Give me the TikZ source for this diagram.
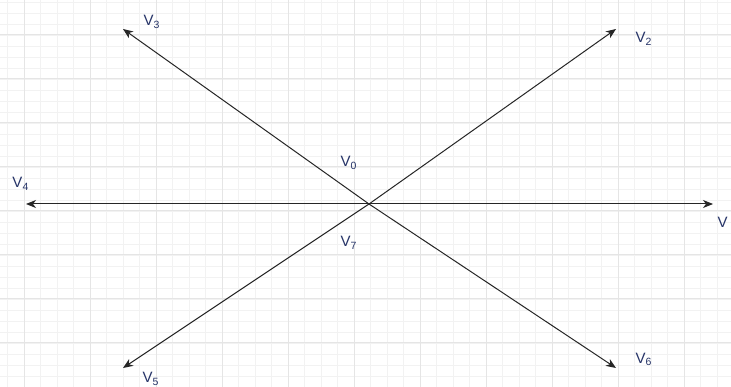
\documentclass[tikz,border=0pt]{standalone}
\usepackage{fontspec}
\setmainfont{Liberation Sans}
\usetikzlibrary{arrows.meta}
\definecolor{vtext}{RGB}{38,52,104}
\newcommand{\vlab}[1]{V{\fontsize{10.5}{12}\selectfont\raisebox{-2.5pt}{#1}}}

\begin{document}
\begin{tikzpicture}[x=1pt,y=-1pt,>={Stealth[length=10pt,width=8pt,inset=3pt]},line width=1pt]
  \tikzstyle{lbl}=[font=\fontsize{15}{17}\selectfont, text=vtext, inner sep=0pt, anchor=base west]
  \tikzstyle{vec}=[->, draw=black!85]
  \tikzstyle{minor}=[line width=0.8pt, draw=black!5]
  \tikzstyle{major}=[line width=1pt, draw=black!10]

  \useasboundingbox (0,0) rectangle (731,387);
  \fill[white] (0,0) rectangle (731,387);
  \begin{scope}
    \clip (0,0) rectangle (731,387);
    \foreach \x in {7.5,24,...,740} { \draw[minor] (\x,0) -- (\x,387); }
    \foreach \y in {2,13,...,395} { \draw[minor] (0,\y) -- (731,\y); }
    \foreach \x in {24,90,...,740} { \draw[major] (\x,0) -- (\x,387); }
    \foreach \y in {35,79,...,395} { \draw[major] (0,\y) -- (731,\y); }
  \end{scope}

  \coordinate (o) at (369,204);
  \coordinate (e1) at (713,204);
  \coordinate (e2) at (616,29);
  \coordinate (e3) at (123,29);
  \coordinate (e4) at (26,204);
  \coordinate (e5) at (123,368);
  \coordinate (e6) at (616,368);

  \foreach \e in {e1,e2,e3,e4,e5,e6} {
    \draw[vec] (o) -- (\e);
  }

  \node[lbl] (v0) at (340,167) {\vlab{0}};
  \node[lbl] (v1) at (717,228) {V};
  \node[lbl] (v2) at (635,43) {\vlab{2}};
  \node[lbl] (v3) at (143,26) {\vlab{3}};
  \node[lbl] (v4) at (12,188) {\vlab{4}};
  \node[lbl] (v5) at (142,382.5) {\vlab{5}};
  \node[lbl] (v6) at (635,363) {\vlab{6}};
  \node[lbl] (v7) at (340,247) {\vlab{7}};
\end{tikzpicture}
\end{document}
